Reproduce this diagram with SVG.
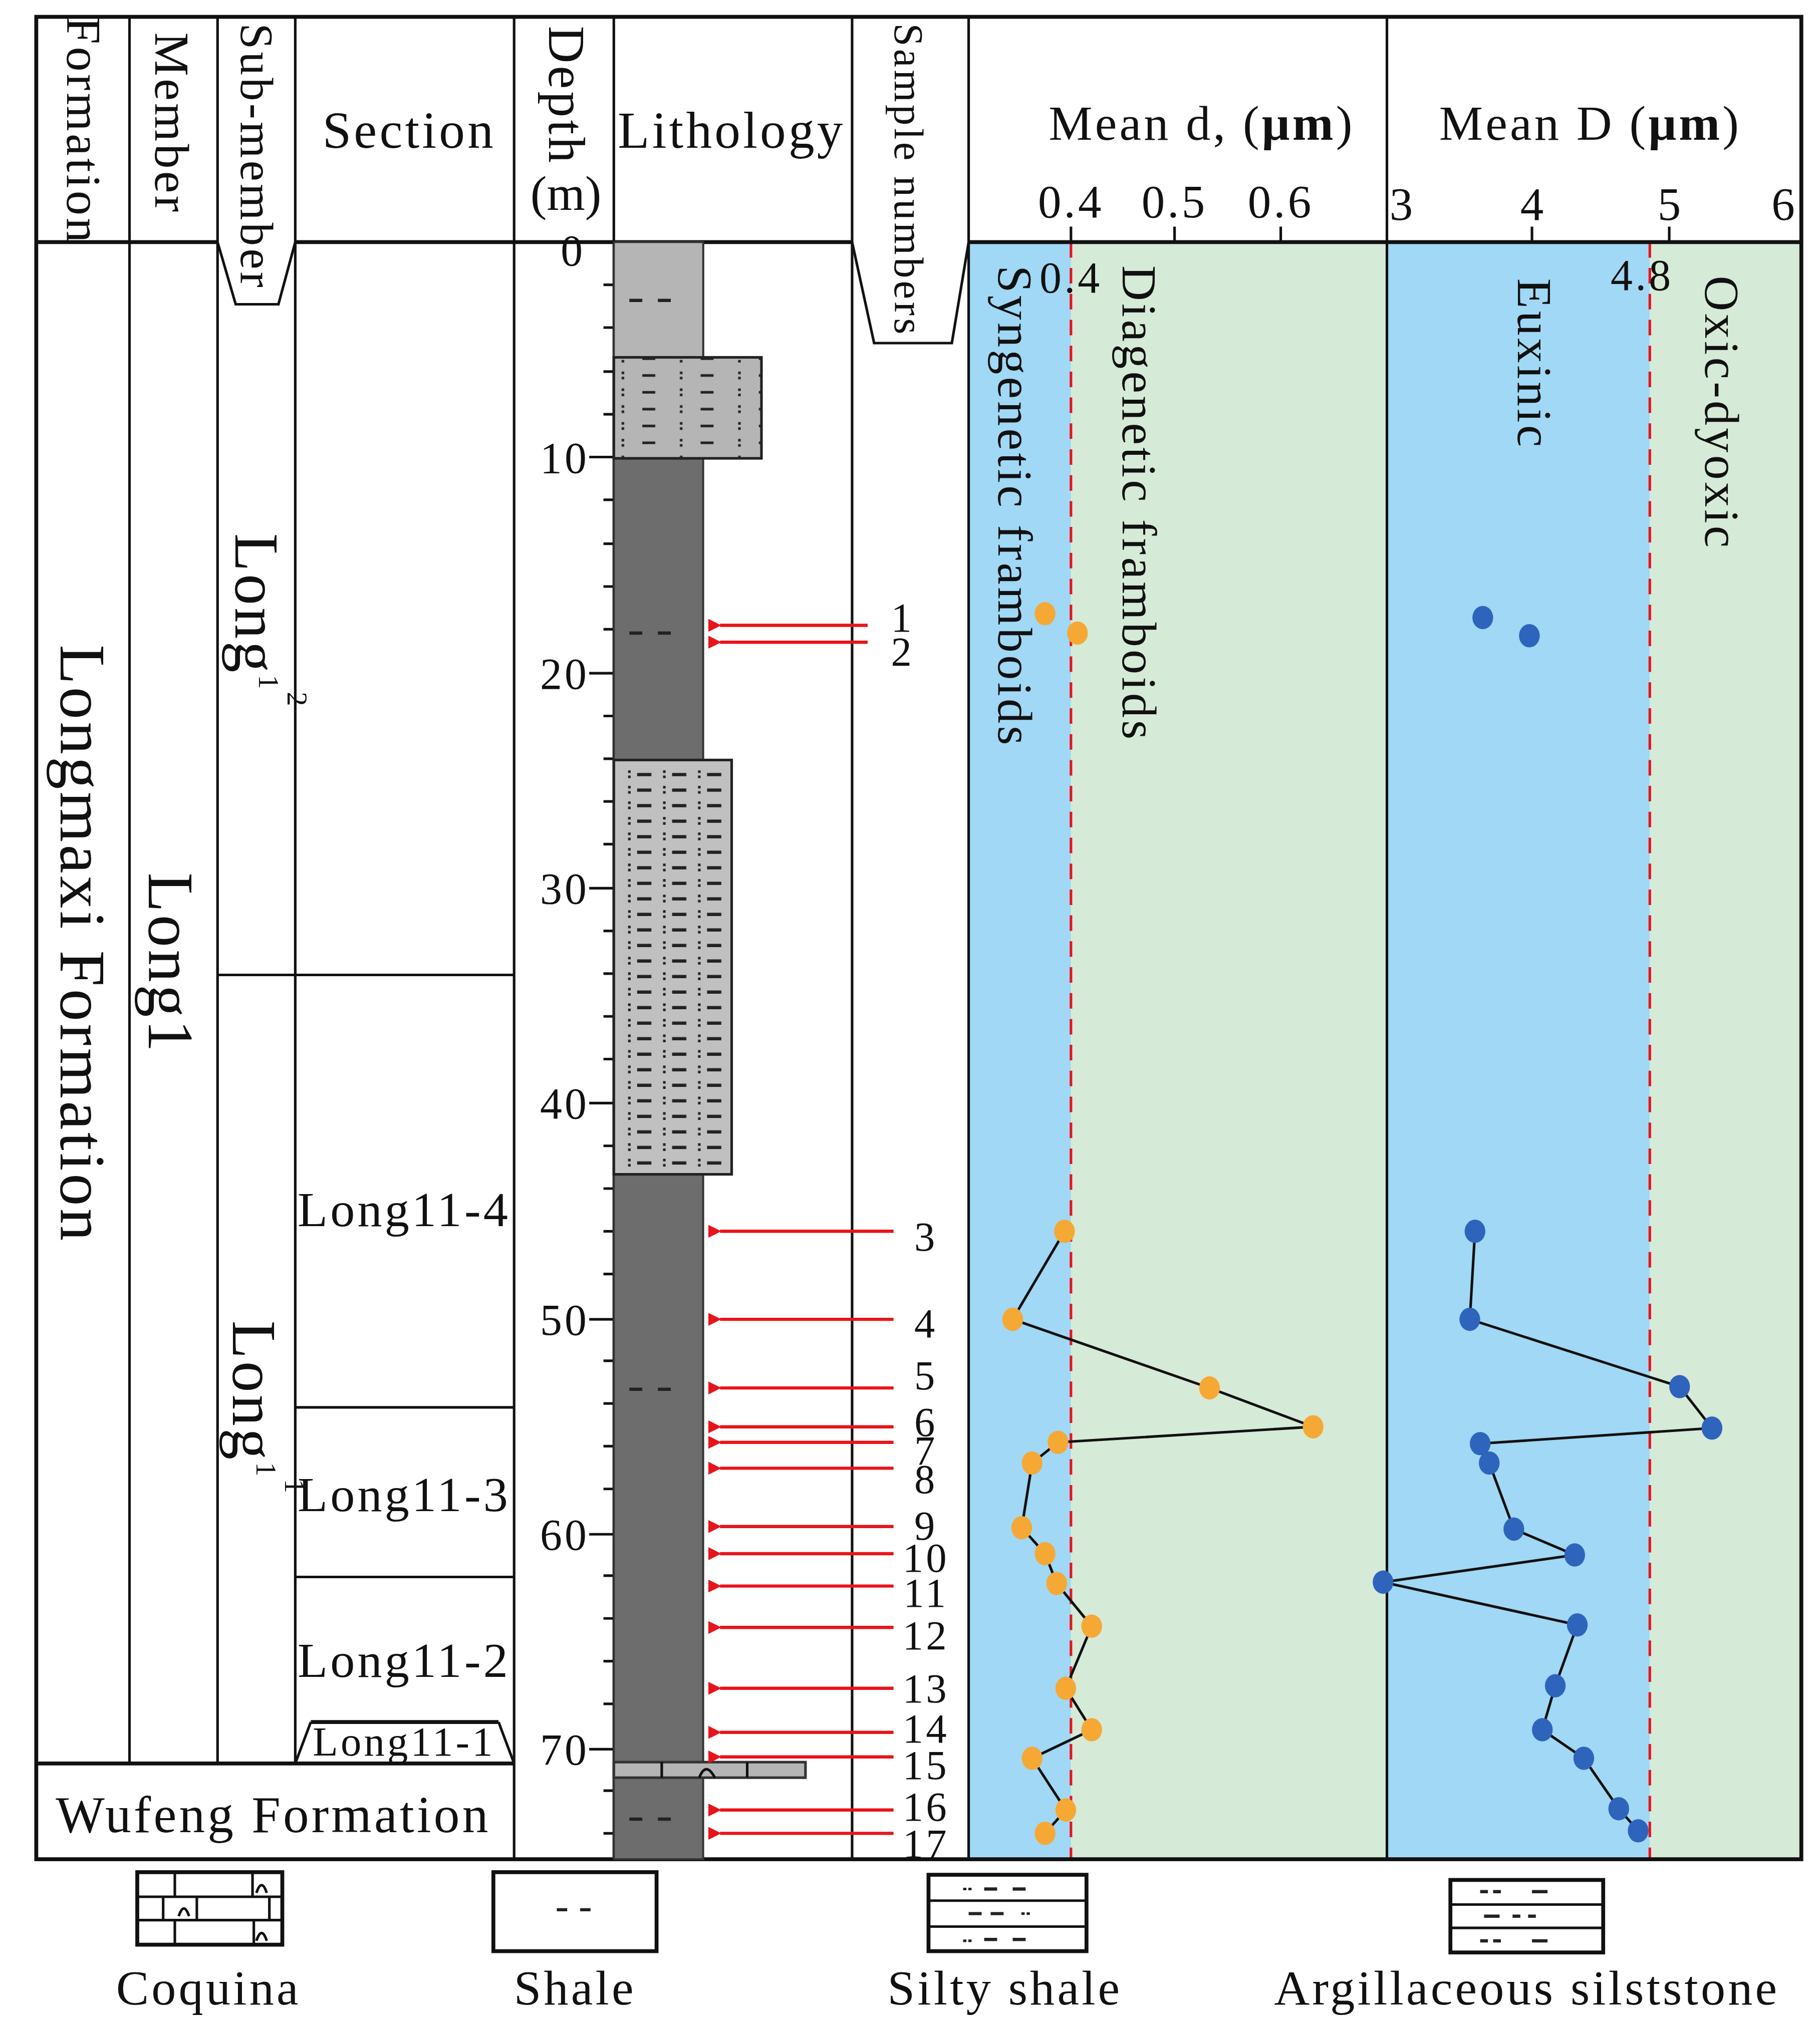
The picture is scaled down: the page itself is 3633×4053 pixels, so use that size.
<svg xmlns="http://www.w3.org/2000/svg" width="3633" height="4053" viewBox="0 0 3633 4053">
<style>
.t{font-family:"Liberation Serif",serif;fill:#111}
.ls{letter-spacing:2px}
.ln{stroke:#111;stroke-width:2;fill:none}
.th{stroke:#111;stroke-width:3;fill:none}
.arr{stroke:#e8141b;stroke-width:2.5}
.dp{fill:#f6a835}
.Dp{fill:#2f64bd}
.dash{stroke:#222;stroke-width:2.5}
</style>
<defs>
<marker id="ah" viewBox="0 0 10 10" refX="1" refY="5" markerUnits="userSpaceOnUse" markerWidth="12" markerHeight="10" orient="auto-start-reverse"><path d="M0,5 L10,0 L10,10 Z" fill="#e8141b"/></marker>
<pattern id="silty" x="474" y="283" width="45" height="13" patternUnits="userSpaceOnUse">
<rect x="6" y="4" width="2" height="2" fill="#222"/><rect x="6" y="8" width="2" height="2" fill="#222"/>
<rect x="22" y="6" width="10" height="2" fill="#222"/>
</pattern>
<pattern id="arg" x="482" y="592" width="27" height="12" patternUnits="userSpaceOnUse">
<rect x="3" y="3" width="2" height="2" fill="#222"/><rect x="3" y="7" width="2" height="2" fill="#222"/>
<rect x="10" y="5" width="11" height="2.5" fill="#222"/>
</pattern>
</defs>
<rect width="3633" height="4053" fill="#fff"/>
<g transform="scale(2.585)">
<g id="panel-d">
<rect x="748" y="187" width="79" height="1249" fill="#a0d8f5"/>
<rect x="827" y="187" width="244" height="1249" fill="#d5ead7"/>
<line x1="827" y1="187" x2="827" y2="1436" stroke="#e8141b" stroke-width="2" stroke-dasharray="12,8"/>
<text class="t ls" x="928" y="108" font-size="38" text-anchor="middle">Mean d, (<tspan font-weight="bold">μm</tspan>)</text>
<g class="t ls" font-size="36" text-anchor="middle"><text x="827" y="168">0.4</text><text x="907" y="168">0.5</text><text x="989" y="168">0.6</text></g>
<path class="ln" d="M827,175V187M907,175V187M989,175V187"/>
<text class="t ls" x="827" y="226" font-size="34" text-anchor="middle">0.4</text>
<text class="t ls" font-size="38" transform="translate(771,205) rotate(90)">Syngenetic framboids</text>
<text class="t ls" font-size="38" transform="translate(867,205) rotate(90)">Diagenetic framboids</text>
</g>
<g id="panel-D">
<rect x="1071" y="187" width="203" height="1249" fill="#a0d8f5"/>
<rect x="1274" y="187" width="117" height="1249" fill="#d5ead7"/>
<line x1="1274" y1="187" x2="1274" y2="1436" stroke="#e8141b" stroke-width="2" stroke-dasharray="12,8"/>
<text class="t ls" x="1228" y="108" font-size="38" text-anchor="middle">Mean D (<tspan font-weight="bold">μm</tspan>)</text>
<g class="t" font-size="36" text-anchor="middle"><text x="1082" y="170">3</text><text x="1183" y="170">4</text><text x="1289" y="170">5</text><text x="1377" y="170">6</text></g>
<path class="ln" d="M1183,175V187M1289,175V187"/>
<text class="t ls" x="1268" y="224" font-size="34" text-anchor="middle">4.8</text>
<text class="t ls" font-size="38" transform="translate(1172,215) rotate(90)">Euxinic</text>
<text class="t ls" font-size="38" transform="translate(1317,213) rotate(90)">Oxic-dyoxic</text>
</g>
<g id="frame">
<rect x="28" y="13" width="1363" height="1423" class="th"/>
<path class="th" d="M28,187H168M228,187H658M748,187H1391"/>
<path class="ln" d="M100,13V1362M168,13V1362M228,13V1362M397,13V1436M474,13V1436M658,13V1436M748,13V1436M1071,13V1436"/>
<path class="ln" d="M168,187L182,235H215L228,187"/>
<path class="ln" d="M658,187L675,265H735L748,187"/>
<path class="ln" d="M168,753H397M228,1087H397M228,1218H397"/>
<path class="th" d="M28,1362H397M240,1330H385"/>
<path class="ln" d="M228,1362L240,1330M385,1330L397,1362"/>
</g>
<g id="headers">
<text class="t ls" font-size="38" transform="translate(52,13) rotate(90)">Formation</text>
<text class="t ls" font-size="38" transform="translate(120,25) rotate(90)">Member</text>
<text class="t ls" font-size="36" transform="translate(186,18) rotate(90)">Sub-member</text>
<text class="t ls" x="316" y="114" font-size="40" text-anchor="middle">Section</text>
<text class="t ls" font-size="40" transform="translate(424,20) rotate(90)">Depth</text>
<text class="t" x="437" y="162" font-size="38" text-anchor="middle">(m)</text>
<text class="t ls" x="565" y="114" font-size="40" text-anchor="middle">Lithology</text>
<text class="t ls" font-size="32" transform="translate(691,18) rotate(90)">Sample numbers</text>
</g>
<g id="strat-labels">
<text class="t ls" font-size="50" transform="translate(47,498) rotate(90)">Longmaxi Formation</text>
<text class="t ls" font-size="50" transform="translate(115,674) rotate(90)">Long1</text>
<text class="t ls" font-size="48" transform="translate(182,412) rotate(90)">Long<tspan font-size="22" dy="-18">1</tspan><tspan font-size="22" dy="-22">2</tspan></text>
<text class="t ls" font-size="48" transform="translate(180,1020) rotate(90)">Long<tspan font-size="22" dy="-18">1</tspan><tspan font-size="22" dy="-22">1</tspan></text>
<text class="t ls" x="312" y="947" font-size="38" text-anchor="middle">Long11-4</text>
<text class="t ls" x="312" y="1167" font-size="38" text-anchor="middle">Long11-3</text>
<text class="t ls" x="312" y="1295" font-size="38" text-anchor="middle">Long11-2</text>
<text class="t ls" x="312" y="1356" font-size="32" text-anchor="middle">Long11-1</text>
<text class="t ls" x="211" y="1415" font-size="40" text-anchor="middle">Wufeng Formation</text>
</g>
<g id="depth">
<path class="ln" d="M466,220H474M466,253H474M466,287H474M466,320H474M466,386H474M466,420H474M466,453H474M466,486H474M466,553H474M466,586H474M466,619H474M466,652H474M466,719H474M466,752H474M466,785H474M466,818H474M466,885H474M466,918H474M466,951H474M466,984H474M466,1051H474M466,1084H474M466,1117H474M466,1150H474M466,1217H474M466,1250H474M466,1283H474M466,1316H474M466,1383H474M466,1416H474"/>
<path class="ln" d="M455,353H474M455,520H474M455,686H474M455,852H474M455,1019H474M455,1185H474M455,1351H474"/>
<g class="t ls" font-size="34" text-anchor="end">
<text x="452" y="205">0</text><text x="455" y="365">10</text><text x="455" y="532">20</text><text x="455" y="698">30</text><text x="455" y="864">40</text><text x="455" y="1031">50</text><text x="455" y="1197">60</text><text x="455" y="1363">70</text>
</g>
</g>
<g id="lithology">
<rect x="474" y="187" width="69" height="1249" fill="#6d6d6d" stroke="#333" stroke-width="1.5"/>
<rect x="474" y="187" width="69" height="89" fill="#b5b5b5" stroke="#333" stroke-width="1.5"/>
<rect x="474" y="276" width="114" height="78" fill="#b5b5b5" stroke="#222" stroke-width="2"/>
<rect x="474" y="276" width="114" height="78" fill="url(#silty)"/>
<rect x="474" y="587" width="91" height="320" fill="#c0c0c0" stroke="#222" stroke-width="2"/>
<rect x="478" y="590" width="84" height="314" fill="url(#arg)"/>
<rect x="474" y="1361" width="148" height="12" fill="#b5b5b5" stroke="#333" stroke-width="2"/>
<path class="ln" d="M511,1361V1373M577,1361V1373M540,1373Q545,1360 552,1373"/>
<path class="dash" d="M486,232H496M508,232H518M486,489H496M508,489H518M486,1073H496M508,1073H518M486,1405H496M508,1405H518"/>
</g>
<g id="connectors">
<g class="arr" marker-end="url(#ah)">
<line x1="670" y1="483" x2="556" y2="483"/><line x1="670" y1="496" x2="556" y2="496"/>
<line x1="690" y1="951" x2="556" y2="951"/><line x1="690" y1="1019" x2="556" y2="1019"/>
<line x1="690" y1="1072" x2="556" y2="1072"/><line x1="690" y1="1102" x2="556" y2="1102"/>
<line x1="690" y1="1114" x2="556" y2="1114"/><line x1="690" y1="1134" x2="556" y2="1134"/>
<line x1="690" y1="1179" x2="556" y2="1179"/><line x1="690" y1="1200" x2="556" y2="1200"/>
<line x1="690" y1="1225" x2="556" y2="1225"/><line x1="690" y1="1257" x2="556" y2="1257"/>
<line x1="690" y1="1304" x2="556" y2="1304"/><line x1="690" y1="1338" x2="556" y2="1338"/>
<line x1="690" y1="1357" x2="556" y2="1357"/><line x1="690" y1="1398" x2="556" y2="1398"/>
<line x1="690" y1="1416" x2="556" y2="1416"/>
</g>
<polyline class="ln" points="822,951 782,1019 934,1072 1014,1102 817,1114 797,1130 789,1180 807,1200 816,1223 843,1256 823,1304 843,1336 797,1358 823,1398 807,1416"/>
<polyline class="ln" points="1139,951 1135,1019 1297,1071 1322,1103 1143,1115 1150,1130 1169,1181 1216,1201 1068,1222 1218,1255 1201,1302 1191,1336 1223,1358 1250,1397 1265,1414"/>
</g>
<g id="sample-numbers" class="t ls" font-size="32" text-anchor="middle">
<text x="697" y="488">1</text><text x="697" y="514">2</text>
<text x="715" y="966">3</text><text x="715" y="1033">4</text><text x="715" y="1073">5</text><text x="715" y="1109">6</text><text x="715" y="1131">7</text><text x="715" y="1153">8</text><text x="715" y="1189">9</text><text x="715" y="1214">10</text><text x="715" y="1241">11</text><text x="715" y="1274">12</text><text x="715" y="1315">13</text><text x="715" y="1346">14</text><text x="715" y="1374">15</text><text x="715" y="1406">16</text><text x="715" y="1435">17</text>
</g>
<g id="points-d" class="dp">
<ellipse cx="807" cy="474" rx="8" ry="9"/><ellipse cx="832" cy="489" rx="8" ry="9"/><ellipse cx="822" cy="951" rx="8" ry="9"/><ellipse cx="782" cy="1019" rx="8" ry="9"/><ellipse cx="934" cy="1072" rx="8" ry="9"/><ellipse cx="1014" cy="1102" rx="8" ry="9"/><ellipse cx="817" cy="1114" rx="8" ry="9"/><ellipse cx="797" cy="1130" rx="8" ry="9"/><ellipse cx="789" cy="1180" rx="8" ry="9"/><ellipse cx="807" cy="1200" rx="8" ry="9"/><ellipse cx="816" cy="1223" rx="8" ry="9"/><ellipse cx="843" cy="1256" rx="8" ry="9"/><ellipse cx="823" cy="1304" rx="8" ry="9"/><ellipse cx="843" cy="1336" rx="8" ry="9"/><ellipse cx="797" cy="1358" rx="8" ry="9"/><ellipse cx="823" cy="1398" rx="8" ry="9"/><ellipse cx="807" cy="1416" rx="8" ry="9"/>
</g>
<g id="points-D" class="Dp">
<ellipse cx="1145" cy="477" rx="8" ry="9"/><ellipse cx="1181" cy="491" rx="8" ry="9"/><ellipse cx="1139" cy="951" rx="8" ry="9"/><ellipse cx="1135" cy="1019" rx="8" ry="9"/><ellipse cx="1297" cy="1071" rx="8" ry="9"/><ellipse cx="1322" cy="1103" rx="8" ry="9"/><ellipse cx="1143" cy="1115" rx="8" ry="9"/><ellipse cx="1150" cy="1130" rx="8" ry="9"/><ellipse cx="1169" cy="1181" rx="8" ry="9"/><ellipse cx="1216" cy="1201" rx="8" ry="9"/><ellipse cx="1068" cy="1222" rx="8" ry="9"/><ellipse cx="1218" cy="1255" rx="8" ry="9"/><ellipse cx="1201" cy="1302" rx="8" ry="9"/><ellipse cx="1191" cy="1336" rx="8" ry="9"/><ellipse cx="1223" cy="1358" rx="8" ry="9"/><ellipse cx="1250" cy="1397" rx="8" ry="9"/><ellipse cx="1265" cy="1414" rx="8" ry="9"/>
</g>
<g id="legend-coquina">
<rect x="106" y="1446" width="112" height="56" class="th"/>
<path class="ln" d="M106,1465H218M106,1483H218M135,1446V1465M195,1446V1465M126,1465V1483M152,1465V1483M208,1465V1483M135,1483V1502M196,1483V1502"/>
<path class="ln" d="M198,1462Q202,1450 206,1462M138,1480Q142,1468 146,1480M198,1499Q202,1487 206,1499"/>
<text class="t ls" x="161" y="1548" font-size="38" text-anchor="middle">Coquina</text>
</g>
<g id="legend-shale">
<rect x="381" y="1446" width="126" height="61" class="th"/>
<path class="dash" d="M430,1475H438M448,1475H456"/>
<text class="t ls" x="444" y="1548" font-size="38" text-anchor="middle">Shale</text>
</g>
<g id="legend-silty">
<rect x="717" y="1448" width="122" height="59" class="th"/>
<path class="ln" d="M717,1468H839M717,1488H839"/>
<path class="dash" d="M745,1458V1460M749,1458V1460M760,1459H770M782,1459H792M748,1478H758M765,1478H775M790,1477V1479M794,1477V1479M745,1498V1500M749,1498V1500M760,1498H770M782,1498H792"/>
<text class="t ls" x="776" y="1548" font-size="38" text-anchor="middle">Silty shale</text>
</g>
<g id="legend-arg">
<rect x="1120" y="1452" width="118" height="56" class="th"/>
<path class="ln" d="M1120,1471H1238M1120,1489H1238"/>
<path class="dash" d="M1143,1461H1149M1153,1461H1159M1183,1461H1195M1146,1480H1158M1168,1480H1174M1180,1480H1186M1143,1499H1149M1153,1499H1159M1183,1499H1195" stroke-width="4"/>
<text class="t ls" x="1179" y="1548" font-size="38" text-anchor="middle">Argillaceous silststone</text>
</g>
</g>
</svg>
